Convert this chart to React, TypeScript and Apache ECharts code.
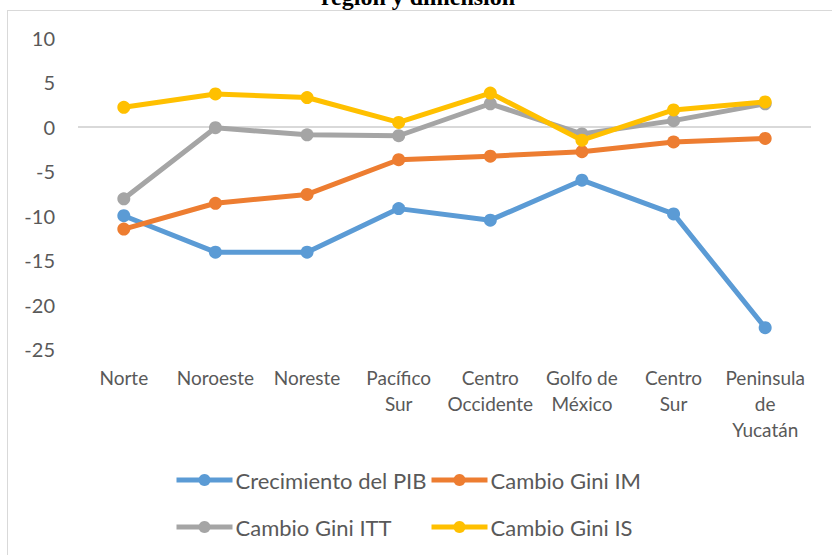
import React, { useEffect, useRef } from "react";
import * as echarts from "echarts";

const categories = [
  "Norte",
  "Noroeste",
  "Noreste",
  "Pacífico\nSur",
  "Centro\nOccidente",
  "Golfo de\nMéxico",
  "Centro\nSur",
  "Peninsula\nde\nYucatán",
];

const seriesNames = [
  "Crecimiento del PIB",
  "Cambio Gini IM",
  "Cambio Gini ITT",
  "Cambio Gini IS",
];

const pibValues = [-10.0, -14.1, -14.1, -9.2, -10.5, -6.0, -9.8, -22.6];
const giniIMValues = [-11.5, -8.6, -7.6, -3.7, -3.3, -2.8, -1.7, -1.3];
const giniITTValues = [-8.1, -0.1, -0.9, -1.0, 2.6, -0.8, 0.7, 2.6];
const giniISValues = [2.2, 3.7, 3.3, 0.5, 3.8, -1.5, 1.9, 2.8];

const colors = ["#5B9BD5", "#ED7D31", "#A5A5A5", "#FFC000"];

const yMin = -25;
const yMax = 10;
const yInterval = 5;

const FONT = "Lato";
const TEXT_COLOR = "#595959";

export default function App() {
  const ref = useRef<HTMLDivElement>(null);

  useEffect(() => {
    if (!ref.current) return;
    const chart = echarts.init(ref.current, undefined, { renderer: "svg" });
    const allValues = [pibValues, giniIMValues, giniITTValues, giniISValues];

    const ticks: number[] = [];
    for (let v = yMin; v <= yMax; v += yInterval) ticks.push(v);
    const splitColors = ticks.map((v) => (v === 0 ? "#d9d9d9" : "rgba(0,0,0,0)"));

    const legendPos = [
      { left: 174, top: 469 },
      { left: 429, top: 469 },
      { left: 174, top: 516 },
      { left: 429, top: 516 },
    ];

    chart.setOption({
      animation: false,
      backgroundColor: "#ffffff",
      textStyle: { fontFamily: FONT },
      grid: { left: 78, right: 21, top: 38, bottom: 206, containLabel: false },
      xAxis: {
        type: "category",
        data: categories,
        boundaryGap: true,
        axisLine: { show: false, onZero: false },
        axisTick: { show: false },
        splitLine: { show: false },
        axisLabel: {
          color: TEXT_COLOR,
          fontSize: 19,
          fontFamily: FONT,
          lineHeight: 26,
          margin: 15,
          interval: 0,
          align: "center",
        },
      },
      yAxis: {
        type: "value",
        min: yMin,
        max: yMax,
        interval: yInterval,
        axisLine: { show: false },
        axisTick: { show: false },
        splitLine: { show: true, lineStyle: { color: splitColors, width: 2 } },
        axisLabel: {
          color: TEXT_COLOR,
          fontSize: 20,
          fontFamily: FONT,
          margin: 23,
        },
      },
      legend: seriesNames.map((name, i) => ({
        data: [name],
        left: legendPos[i].left,
        top: legendPos[i].top,
        padding: 0,
        itemWidth: 56,
        itemHeight: 15,
        itemGap: 0,
        lineStyle: { width: 5 },
        textStyle: { color: TEXT_COLOR, fontSize: 22, fontFamily: FONT, padding: [0, 0, 0, -2] },
        selectedMode: false,
      })),
      graphic: [
        {
          type: "line",
          shape: { x1: 7, y1: 10.5, x2: 832, y2: 10.5 },
          style: { stroke: "#d9d9d9", lineWidth: 1 },
          silent: true,
        },
        {
          type: "line",
          shape: { x1: 7.5, y1: 10, x2: 7.5, y2: 555 },
          style: { stroke: "#d9d9d9", lineWidth: 1 },
          silent: true,
        },
        {
          type: "text",
          x: 418,
          y: -3,
          style: {
            text: "región y dimensión",
            fill: "#000000",
            font: "bold 24px 'Liberation Serif', 'Times New Roman', serif",
            textAlign: "center",
            textVerticalAlign: "middle",
          },
          silent: true,
        },
      ],
      series: seriesNames.map((name, i) => ({
        name,
        type: "line",
        data: allValues[i],
        symbol: "circle",
        symbolSize: 13,
        showSymbol: true,
        lineStyle: { color: colors[i], width: 5 },
        itemStyle: { color: colors[i] },
        z: 2 + i,
      })),
    });

    return () => chart.dispose();
  }, []);

  return (
    <div
      ref={ref}
      style={{ position: "fixed", left: 0, top: 0, width: 832, height: 555 }}
    />
  );
}
